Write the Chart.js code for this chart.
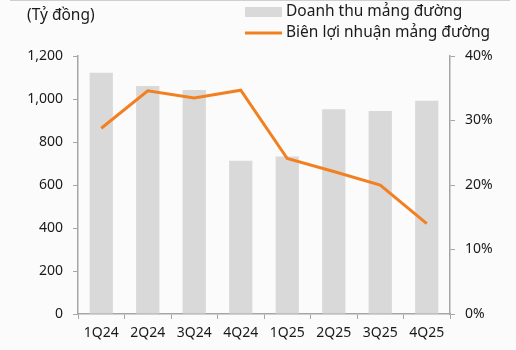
<!DOCTYPE html>
<html lang="vi">
<head>
<meta charset="UTF-8">
<title>Doanh thu mảng đường</title>
<script src="https://cdn.jsdelivr.net/npm/chart.js"></script>
<style>
   body { margin: 0; background: #fbfbfb; }
   #wrap { position: relative; width: 516px; height: 350px; }
</style>
</head>
<body>
<div id="wrap"><canvas id="sugarChart"></canvas></div>
<script>
   // quarterly data
   const quarters = ['1Q24', '2Q24', '3Q24', '4Q24', '1Q25', '2Q25', '3Q25', '4Q25'];
   const revenue = [1122, 1060, 1042, 713, 732, 952, 944, 992];     // tỷ đồng
   const margin = [28.8, 34.6, 33.5, 34.7, 24.1, 22.1, 20.0, 14.0];  // %
   const revenueTicks = [0, 200, 400, 600, 800, 1000, 1200];
   const marginTicks = [0, 10, 20, 30, 40];

   const barLabel = 'Doanh thu mảng đường';
   const lineLabel = 'Biên lợi nhuận mảng đường';
   const unitLabel = '(Tỷ đồng)';

   const GREY = '#d9d9d9';
   const ORANGE = '#f28021';
   const AXIS = '#a6a6a6';
   const TEXT = '#1a1a1a';
   const FONT = '"Noto Sans", "Open Sans", sans-serif';

   // legend + unit label + thin rule at the top
   const headerPlugin = {
      id: 'header',
      afterDraw(chart) {
         const c = chart.ctx;
         c.save();
         c.fillStyle = '#cfcfcf';
         c.fillRect(10, 0, 500, 1);

         c.font = '15.5px ' + FONT;
         c.fillStyle = TEXT;
         c.textBaseline = 'middle';
         c.fillText(unitLabel, 27, 16);

         c.fillStyle = GREY;
         c.fillRect(245, 7, 37, 10);
         c.strokeStyle = ORANGE;
         c.lineWidth = 3;
         c.beginPath();
         c.moveTo(245, 33);
         c.lineTo(282, 33);
         c.stroke();

         c.fillStyle = TEXT;
         c.fillText(barLabel, 286, 12);
         c.fillText(lineLabel, 286, 33);
         c.restore();
      }
   };

   const tickFont = { family: FONT, size: 14 };

   new Chart(document.getElementById('sugarChart'), {
      data: {
         labels: quarters,
         datasets: [
            {
               type: 'line',
               label: lineLabel,
               data: margin,
               yAxisID: 'y1',
               borderColor: ORANGE,
               borderWidth: 3,
               pointRadius: 0,
               tension: 0,
               order: 0
            },
            {
               type: 'bar',
               label: barLabel,
               data: revenue,
               yAxisID: 'y',
               backgroundColor: GREY,
               categoryPercentage: 1,
               barPercentage: 0.5,
               order: 1
            }
         ]
      },
      options: {
         responsive: true,
         maintainAspectRatio: false,
         animation: false,
         layout: { padding: { top: 56, left: 0, right: 0, bottom: 0 } },
         plugins: {
            legend: { display: false },
            tooltip: { enabled: false }
         },
         scales: {
            x: {
               offset: true,
               grid: { display: true, drawOnChartArea: false, offset: true, tickLength: 5, color: AXIS },
               border: { color: AXIS, width: 1.5 },
               ticks: { font: tickFont, color: TEXT, padding: 6, maxRotation: 0 },
               afterFit(s) { s.height = 36; }
            },
            y: {
               position: 'left',
               min: 0, max: 1200,
               afterBuildTicks(s) { s.ticks = revenueTicks.map(v => ({ value: v })); },
               grid: { drawOnChartArea: false, tickLength: 5, color: AXIS },
               border: { color: AXIS, width: 1.5 },
               ticks: {
                  font: tickFont, color: TEXT, padding: 10,
                  callback: v => v.toLocaleString('en-US')
               },
               afterFit(s) { s.width = 78; }
            },
            y1: {
               position: 'right',
               min: 0, max: 40,
               afterBuildTicks(s) { s.ticks = marginTicks.map(v => ({ value: v })); },
               grid: { drawOnChartArea: false, tickLength: 5, color: AXIS },
               border: { color: AXIS, width: 1.5 },
               ticks: { font: tickFont, color: TEXT, padding: 10, callback: v => v + '%' },
               afterFit(s) { s.width = 66; }
            }
         }
      },
      plugins: [headerPlugin]
   });
</script>
</body>
</html>
